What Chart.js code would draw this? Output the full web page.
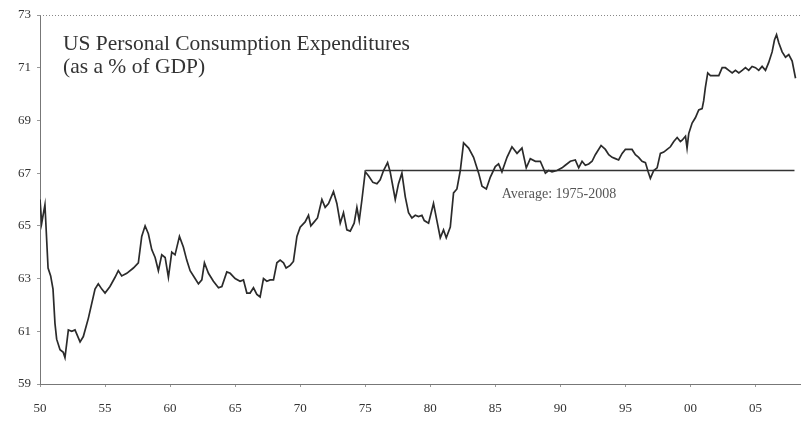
<!DOCTYPE html>
<html>
<head>
<meta charset="utf-8">
<title>US Personal Consumption Expenditures</title>
<script src="https://cdn.jsdelivr.net/npm/chart.js"></script>
<style>
    body { margin: 0; background: #fff; }
    #wrap { width: 801px; height: 423px; position: relative; }
</style>
</head>
<body>
<div id="wrap"><canvas id="pceChart"></canvas></div>
<script>
// Quarterly-ish readings, year (decimal) and PCE as % of GDP
const years = [
    1950.00, 1950.13, 1950.38, 1950.62, 1950.82, 1951.00, 1951.15, 1951.28, 1951.54, 1951.79,
    1951.92, 1952.18, 1952.44, 1952.69, 1953.08, 1953.33, 1953.72, 1954.23, 1954.48, 1954.75,
    1955.00, 1955.38, 1955.77, 1956.02, 1956.28, 1956.67, 1957.18, 1957.56, 1957.82, 1958.08,
    1958.33, 1958.59, 1958.85, 1959.10, 1959.36, 1959.62, 1959.87, 1960.13, 1960.38, 1960.72,
    1961.02, 1961.28, 1961.54, 1961.92, 1962.18, 1962.44, 1962.64, 1962.95, 1963.33, 1963.72,
    1963.98, 1964.36, 1964.62, 1965.00, 1965.38, 1965.64, 1965.90, 1966.15, 1966.41, 1966.67,
    1966.92, 1967.18, 1967.44, 1967.69, 1967.95, 1968.21, 1968.46, 1968.72, 1968.92, 1969.23,
    1969.48, 1969.75, 1970.00, 1970.38, 1970.64, 1970.82, 1971.08, 1971.33, 1971.67, 1971.92,
    1972.18, 1972.56, 1972.82, 1973.08, 1973.33, 1973.59, 1973.85, 1974.15, 1974.36, 1974.54,
    1974.75, 1975.00, 1975.25, 1975.59, 1975.90, 1976.15, 1976.41, 1976.72, 1976.92, 1977.18,
    1977.31, 1977.56, 1977.82, 1978.08, 1978.33, 1978.59, 1978.85, 1979.10, 1979.36, 1979.54,
    1979.87, 1980.25, 1980.51, 1980.77, 1981.02, 1981.23, 1981.54, 1981.79, 1982.05, 1982.31,
    1982.56, 1982.95, 1983.33, 1983.72, 1983.98, 1984.31, 1984.62, 1985.00, 1985.25, 1985.51,
    1985.90, 1986.28, 1986.67, 1987.05, 1987.38, 1987.69, 1988.08, 1988.46, 1988.85, 1989.10,
    1989.36, 1989.74, 1990.13, 1990.38, 1990.77, 1991.15, 1991.41, 1991.67, 1991.92, 1992.18,
    1992.44, 1992.69, 1993.13, 1993.46, 1993.72, 1993.98, 1994.23, 1994.48, 1994.75, 1995.00,
    1995.51, 1995.77, 1996.02, 1996.28, 1996.54, 1996.75, 1996.92, 1997.18, 1997.44, 1997.69,
    1997.95, 1998.21, 1998.46, 1998.72, 1998.98, 1999.23, 1999.36, 1999.62, 1999.74, 1999.87,
    2000.13, 2000.38, 2000.64, 2000.90, 2001.02, 2001.15, 2001.33, 2001.54, 2001.92, 2002.18,
    2002.44, 2002.69, 2002.95, 2003.21, 2003.46, 2003.72, 2003.98, 2004.23, 2004.48, 2004.74,
    2005.00, 2005.25, 2005.51, 2005.77, 2006.02, 2006.28, 2006.46, 2006.62, 2006.79, 2007.05,
    2007.31, 2007.56, 2007.82, 2008.08
];

const pce = [
    66.0, 65.1, 65.8, 63.4, 63.1, 62.6, 61.3, 60.7, 60.3, 60.2,
    60.0, 61.05, 61.0, 61.05, 60.6, 60.8, 61.5, 62.6, 62.8, 62.6,
    62.45, 62.7, 63.05, 63.3, 63.1, 63.2, 63.4, 63.6, 64.6, 65.0,
    64.7, 64.1, 63.8, 63.3, 63.9, 63.8, 63.05, 64.0, 63.9, 64.6,
    64.2, 63.7, 63.3, 63.0, 62.8, 62.95, 63.6, 63.2, 62.9, 62.65,
    62.7, 63.25, 63.2, 63.0, 62.9, 62.95, 62.45, 62.45, 62.65, 62.4,
    62.3, 63.0, 62.9, 62.95, 62.95, 63.6, 63.7, 63.6, 63.4, 63.5,
    63.65, 64.6, 64.95, 65.15, 65.4, 65.0, 65.15, 65.3, 66.0, 65.7,
    65.85, 66.3, 65.85, 65.1, 65.5, 64.85, 64.8, 65.1, 65.7, 65.2,
    66.0, 67.05, 66.9, 66.65, 66.6, 66.75, 67.1, 67.4, 67.05, 66.35,
    66.0, 66.6, 67.0, 66.1, 65.5, 65.3, 65.4, 65.35, 65.4, 65.2,
    65.1, 65.85, 65.2, 64.55, 64.85, 64.55, 64.95, 66.25, 66.4, 67.1,
    68.15, 67.95, 67.6, 67.0, 66.5, 66.4, 66.85, 67.25, 67.35, 67.05,
    67.6, 68.0, 67.75, 67.95, 67.2, 67.55, 67.45, 67.45, 67.0, 67.1,
    67.05, 67.1, 67.2, 67.3, 67.45, 67.5, 67.2, 67.45, 67.3, 67.35,
    67.45, 67.7, 68.05, 67.9, 67.7, 67.6, 67.55, 67.5, 67.75, 67.9,
    67.9, 67.7, 67.6, 67.45, 67.4, 67.05, 66.8, 67.1, 67.2, 67.75,
    67.8, 67.9, 68.0, 68.2, 68.35, 68.2, 68.25, 68.4, 67.95, 68.5,
    68.9, 69.1, 69.4, 69.45, 69.75, 70.25, 70.8, 70.7, 70.7, 70.7,
    71.0, 71.0, 70.9, 70.8, 70.9, 70.8, 70.9, 71.0, 70.9, 71.05,
    71.0, 70.9, 71.05, 70.9, 71.2, 71.6, 72.05, 72.25, 71.95, 71.6,
    71.4, 71.5, 71.25, 70.6
];

// Average 1975-2008
const avgYears = [1975, 2008];
const avgValue = 67.1;

// Axis ticks
const xTicks = [1950, 1955, 1960, 1965, 1970, 1975, 1980, 1985, 1990, 1995, 2000, 2005];
const yTicks = [59, 61, 63, 65, 67, 69, 71, 73];

const titleLines = ['US Personal Consumption Expenditures', '(as a % of GDP)'];
const avgLabel = 'Average: 1975-2008';

const serif = '"Liberation Serif", "DejaVu Serif", serif';

// Dotted top frame + text annotations
const annotations = {
    id: 'annotations',
    afterDraw(chart) {
        const ctx = chart.ctx;
        const area = chart.chartArea;
        const x = chart.scales.x;
        const y = chart.scales.y;
        ctx.save();
        ctx.strokeStyle = '#888';
        ctx.lineWidth = 1;
        ctx.setLineDash([1, 2]);
        ctx.beginPath();
        ctx.moveTo(area.left, area.top + 0.5);
        ctx.lineTo(area.right, area.top + 0.5);
        ctx.stroke();
        ctx.setLineDash([]);

        ctx.fillStyle = '#333';
        ctx.textAlign = 'left';
        ctx.textBaseline = 'alphabetic';
        ctx.font = '21.5px ' + serif;
        ctx.fillText(titleLines[0], 63, 50);
        ctx.fillText(titleLines[1], 63, 73);

        ctx.fillStyle = '#555';
        ctx.font = '14px ' + serif;
        ctx.fillText(avgLabel, x.getPixelForValue(1985.5), y.getPixelForValue(avgValue) + 27);
        ctx.restore();
    }
};

document.addEventListener('DOMContentLoaded', function() {
    const ctx = document.getElementById('pceChart').getContext('2d');
    new Chart(ctx, {
        type: 'line',
        data: {
            datasets: [{
                label: 'PCE % of GDP',
                data: years.map((yr, i) => ({ x: yr, y: pce[i] })),
                borderColor: '#2b2b2b',
                borderWidth: 1.7,
                pointRadius: 0,
                tension: 0,
                fill: false
            }, {
                label: 'Average 1975-2008',
                data: avgYears.map(yr => ({ x: yr, y: avgValue })),
                borderColor: '#333',
                borderWidth: 1.6,
                pointRadius: 0,
                fill: false
            }]
        },
        options: {
            responsive: true,
            maintainAspectRatio: false,
            animation: false,
            layout: { padding: { top: 15, right: 0, left: 0, bottom: 0 } },
            plugins: {
                legend: { display: false },
                tooltip: { enabled: false }
            },
            scales: {
                x: {
                    type: 'linear',
                    min: 1950,
                    max: 2008.5,
                    afterBuildTicks: scale => { scale.ticks = xTicks.map(v => ({ value: v })); },
                    afterFit: scale => { scale.height = 39; },
                    grid: { drawOnChartArea: false, tickLength: 3, color: '#999' },
                    border: { display: true, color: '#777', width: 1, dash: [1, 2] },
                    ticks: {
                        color: '#333',
                        padding: 14,
                        maxRotation: 0,
                        font: { family: serif, size: 13 },
                        callback: v => String(v % 100).padStart(2, '0')
                    }
                },
                y: {
                    min: 59,
                    max: 73,
                    afterBuildTicks: scale => { scale.ticks = yTicks.map(v => ({ value: v })); },
                    afterFit: scale => { scale.width = 40; },
                    grid: { drawOnChartArea: false, tickLength: 3, color: '#999' },
                    border: { display: true, color: '#777', width: 1, dash: [1, 2] },
                    ticks: {
                        color: '#333',
                        padding: 6,
                        font: { family: serif, size: 13 }
                    }
                }
            }
        },
        plugins: [annotations]
    });
});
</script>
</body>
</html>
